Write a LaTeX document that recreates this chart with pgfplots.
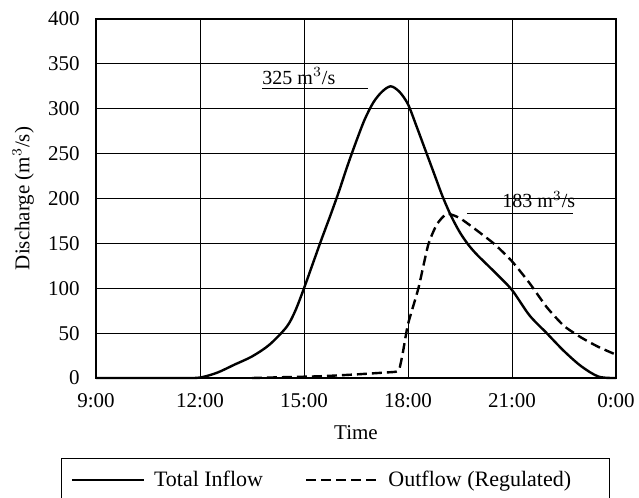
\documentclass[border=0pt]{standalone}
\usepackage{pgfplots}
\pgfplotsset{compat=1.18}
\usepackage{fontspec}
\setmainfont{Liberation Serif}
\usetikzlibrary{calc}
\begin{document}
\fontsize{10.5}{12.6}\selectfont
\begin{tikzpicture}
\begin{axis}[
  name=ax,
  scale only axis,
  width=260pt, height=179.5pt,
  xmin=9, xmax=24, ymin=0, ymax=400,
  xtick={9,12,15,18,21,24},
  xticklabels={9:00,12:00,15:00,18:00,21:00,0:00},
  ytick={0,50,100,150,200,250,300,350,400},
  /pgf/number format/assume math mode=true,
  major tick length=0pt,
  grid=major,
  major grid style={black, line width=0.5pt},
  axis line style={black, line width=1pt},
  tick label style={font=\fontsize{10.5}{12.6}\selectfont},
  xticklabel style={yshift=-4pt},
  yticklabel style={xshift=-4.5pt},
  xlabel={Time},
  ylabel={Discharge (m$^{3}$/s)},
  label style={font=\fontsize{10.5}{12.6}\selectfont},
  xlabel style={at={(axis description cs:0.5,-0.153)}, anchor=center},
  ylabel style={at={(axis description cs:-0.14,0.5)}, anchor=center},
  legend columns=2,
  legend style={at={(-0.0673,-0.223)}, anchor=north west, draw=black, line width=0.6pt,
    font=\fontsize{11}{13}\selectfont, inner xsep=4.5pt, inner ysep=4pt,
    /tikz/every even column/.append style={column sep=19pt}},
  legend image code/.code={\draw[#1] (0pt,0pt) -- (36pt,0pt);},
  clip=false,
]
\addplot[black, line width=1.2pt, smooth, tension=0.5] coordinates {
(9,0) (10,0) (11,0) (11.5,0) (12,0.5) (12.5,6) (13,15) (13.5,24) (14,37) (14.5,57)
(14.75,75) (15,100) (15.25,127) (15.5,154) (15.75,180) (16,207) (16.25,236) (16.5,263)
(16.75,288) (17,307) (17.25,319) (17.5,325) (17.75,319) (18,305) (18.25,280)
(18.5,254) (18.75,228) (19,202) (19.25,180) (19.5,162) (19.75,148) (20,137)
(20.5,118) (21,98) (21.5,70) (22,50) (22.5,30) (23,13) (23.5,1.5) (24,0)
};
\addlegendentry{\hspace{2.5pt}Total Inflow}
\addplot[black, line width=1.2pt, dash pattern=on 5pt off 2.5pt, smooth, tension=0.35] coordinates {
(13.5,0) (14.5,1) (15.5,2) (16.5,4) (17.3,6) (17.65,7) (17.75,10) (17.85,28)
(18,60) (18.3,100) (18.58,148) (18.83,171) (19.12,183) (19.5,178)
(20,164) (20.5,149) (21,130) (21.5,106) (22,79) (22.5,58) (23,45) (23.5,34.5) (24,26)
};
\addlegendentry{\hspace{2.5pt}Outflow (Regulated)\rule{12.5pt}{0pt}}
\addplot[black, line width=0.6pt, forget plot] coordinates {(13.79,323) (16.85,323)};
\addplot[black, line width=0.6pt, forget plot] coordinates {(19.7,183) (22.76,183)};
\node[anchor=base west, inner sep=0pt, yshift=2pt, font=\fontsize{10}{12}\selectfont] at (axis cs:13.79,323) {325 m$^{3}$/s};
\node[anchor=base west, inner sep=0pt, yshift=3pt, font=\fontsize{10}{12}\selectfont] at (axis cs:20.71,183) {183 m$^{3}$/s};
\end{axis}
\pgfresetboundingbox
\path ($(ax.south west)+(-48pt,-59.5pt)$) rectangle ($(ax.north east)+(11.5pt,9.5pt)$);
\end{tikzpicture}
\end{document}
